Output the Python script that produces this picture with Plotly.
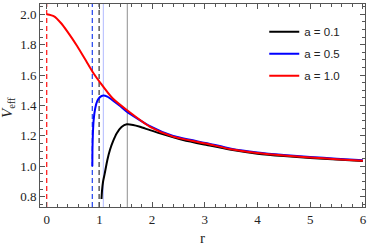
import plotly.graph_objects as go

# a = 0.1 (black)
r_a01 = [1.04, 1.05, 1.07, 1.1, 1.15, 1.2, 1.26, 1.33, 1.42, 1.52, 1.64, 1.77, 1.96, 2.15,
         2.59, 3.04, 3.5, 4.0, 4.5, 5.0, 5.5, 6.0]
v_a01 = [0.785, 0.84, 0.90, 0.95, 1.04, 1.107, 1.165, 1.217, 1.258, 1.276, 1.272, 1.26, 1.238, 1.217,
         1.173, 1.14, 1.108, 1.083, 1.067, 1.055, 1.045, 1.035]

# a = 0.5 (blue)
r_a05 = [0.866, 0.868, 0.875, 0.89, 0.92, 0.96, 1.01, 1.075, 1.15, 1.26, 1.4, 1.52, 1.96, 2.4,
         3.04, 3.5, 4.0, 4.5, 5.0, 5.5, 6.0]
v_a05 = [1.0, 1.1, 1.2, 1.3, 1.38, 1.43, 1.455, 1.465, 1.458, 1.432, 1.395, 1.36, 1.264, 1.199,
         1.152, 1.116, 1.091, 1.074, 1.061, 1.05, 1.04]

# a = 1.0 (red)
r_a10 = [0.0, 0.14, 0.27, 0.39, 0.58, 0.77, 0.885, 1.02, 1.245, 1.52, 1.96, 2.4, 3.04, 3.5,
         4.0, 4.5, 5.0, 5.5, 6.0]
v_a10 = [2.0, 1.987, 1.943, 1.888, 1.79, 1.68, 1.614, 1.548, 1.449, 1.37, 1.26, 1.195, 1.148, 1.112,
         1.088, 1.071, 1.058, 1.047, 1.037]

labels = ["a = 0.1", "a = 0.5", "a = 1.0"]
colors = ["black", "#0000ff", "#ff0000"]

# vertical reference lines (horizons dashed, peaks solid)
horizon_r = [0.0, 0.866, 0.995]
horizon_colors = ["#ff2020", "#3050f0", "#444444"]
peak_r = [1.075, 1.53]
peak_colors = ["#b8c0ff", "#999999"]

x_ticks = [0, 1, 2, 3, 4, 5, 6]
y_ticks = [0.8, 1.0, 1.2, 1.4, 1.6, 1.8, 2.0]

fig = go.Figure()

for xv, c in zip(horizon_r, horizon_colors):
    fig.add_vline(x=xv, line=dict(color=c, width=1.3, dash="5px,3px"), layer="below")
for xv, c in zip(peak_r, peak_colors):
    fig.add_vline(x=xv, line=dict(color=c, width=1.1), layer="below")

for rs, vs, lab, col in zip([r_a01, r_a05, r_a10], [v_a01, v_a05, v_a10], labels, colors):
    fig.add_trace(go.Scatter(x=rs, y=vs, mode="lines", name=lab, legendgroup=lab,
                             line=dict(color=col, width=2, shape="spline", smoothing=0.6)))

axis_common = dict(
    showline=True, linecolor="#555555", linewidth=1, mirror="ticks",
    ticks="inside", ticklen=5, tickcolor="#555555", tickwidth=1,
    showgrid=False, zeroline=False, automargin=False,
    tickfont=dict(family="Liberation Serif", size=13, color="#222222"),
)

fig.update_xaxes(range=[-0.127, 6.04], tickvals=x_ticks,
                 minor=dict(dtick=0.2, ticks="inside", ticklen=3, tickcolor="#555555"),
                 **axis_common)
fig.update_yaxes(range=[0.732, 2.068], tickvals=y_ticks, tickformat=".1f",
                 minor=dict(dtick=0.05, ticks="inside", ticklen=3, tickcolor="#555555"),
                 **axis_common)

title_font = dict(family="Liberation Serif", size=15, color="#222222")
fig.add_annotation(text="r", xref="paper", yref="paper", x=0.5, y=-0.155,
                   xanchor="center", yanchor="middle", showarrow=False, font=title_font)
fig.add_annotation(text="<i>V</i><sub>eff</sub>", xref="paper", yref="paper", x=-0.1, y=0.49,
                   xanchor="center", yanchor="middle", showarrow=False, textangle=-90,
                   font=title_font)

fig.update_layout(
    width=374, height=245,
    margin=dict(l=40, r=9, t=4, b=38),
    paper_bgcolor="white", plot_bgcolor="white",
    showlegend=True,
    legend=dict(x=0.69, y=0.935, xanchor="left", yanchor="top",
                bgcolor="rgba(0,0,0,0)", tracegroupgap=3,
                font=dict(family="Liberation Sans", size=11.5, color="#222222")),
)

fig.write_html("out.html", config={"displayModeBar": False},
               post_script="document.body.style.margin='0';document.body.style.padding='0';")
